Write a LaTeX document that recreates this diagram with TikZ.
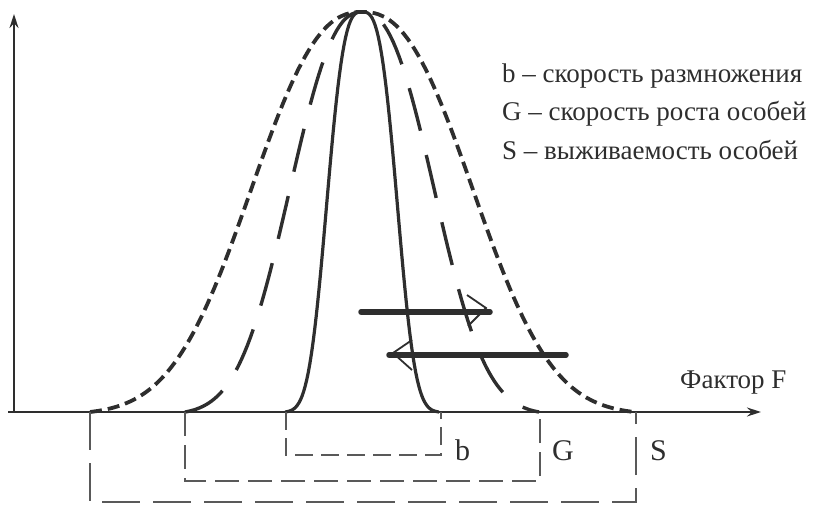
\documentclass[tikz,border=0pt]{standalone}
\usepackage{fontspec}
\setmainfont{Liberation Serif}
\usetikzlibrary{arrows.meta}

\definecolor{ink}{HTML}{2E2E2E}
\tikzset{
  axis/.style={line width=1.5pt,ink,-{Stealth[length=14pt,width=9pt]}},
  curveS/.style={line width=3.8pt,ink,dash pattern=on 12pt off 6pt},
  curveG/.style={line width=3.4pt,ink,dash pattern=on 44pt off 25pt},
  curveb/.style={line width=3.2pt,ink},
  zonebox/.style={line width=1.4pt,gray!70!black},
  bar/.style={line width=5.5pt,ink,line cap=round},
  chevron/.style={line width=1.8pt,ink},
  txt/.style={font=\fontsize{27}{30}\selectfont,text=ink,inner sep=0},
  boxlab/.style={font=\fontsize{30}{32}\selectfont,text=ink,inner sep=0}
}

\begin{document}
\begin{tikzpicture}[x=1pt,y=-1pt]
\useasboundingbox (0,0) rectangle (816,508);
% axes
\coordinate (O) at (14,412);
\coordinate (xstart) at (8,412);
\coordinate (xtip) at (761,412);
\coordinate (ytip) at (14,14);
\draw[axis] (xstart)--(xtip);
\draw[axis] (O)--(ytip);
% three bell curves, peak at (362,12)
\draw[curveS] plot[domain=-272:272,samples=150] ({362+\x},{412-400*(exp(-((abs(\x)+0.01)/139)^2.4)-0.0067)/0.9933});
\draw[curveG] plot[domain=-177:177,samples=120] ({362+\x},{412-400*(exp(-((abs(\x)+0.01)/90.6)^2.4)-0.0069)/0.9931});
\draw[curveb] plot[domain=-77:77,samples=100] ({362+\x},{412-400*(exp(-((abs(\x)+0.01)/40.7)^3)-0.0011)/0.9989});
% shift bars
\coordinate (bar1a) at (361,312);
\coordinate (bar1b) at (490,312);
\coordinate (bar2a) at (389,355);
\coordinate (bar2b) at (566,355);
\draw[bar] (bar1a)--(bar1b);
\draw[bar] (bar2a)--(bar2b);
\draw[chevron] (467,295)--(486,308)--(468,326);
\draw[chevron] (412,340)--(393,353)--(412,370);
% tolerance ranges
\draw[zonebox,dash pattern=on 18pt off 8pt] (286,412)--(286,455)--(441,455)--(441,412);
\draw[zonebox,dash pattern=on 24pt off 9pt] (185,412)--(185,481)--(540,481)--(540,412);
\draw[zonebox,dash pattern=on 38pt off 13pt] (90,412)--(90,502)--(636,502)--(636,412);
\node[boxlab,anchor=base west] (lab-b) at (455,460) {b};
\node[boxlab,anchor=base west] (lab-G) at (552,460) {G};
\node[boxlab,anchor=base west] (lab-S) at (650,460) {S};
\node[txt,anchor=base west] (lab-F) at (680,388) {Фактор F};
% legend
\node[txt,anchor=base west] (leg-b) at (502,83) {b – скорость размножения};
\node[txt,anchor=base west] (leg-G) at (502,121) {G – скорость роста особей};
\node[txt,anchor=base west] (leg-S) at (502,159) {S – выживаемость особей};
\end{tikzpicture}
\end{document}
